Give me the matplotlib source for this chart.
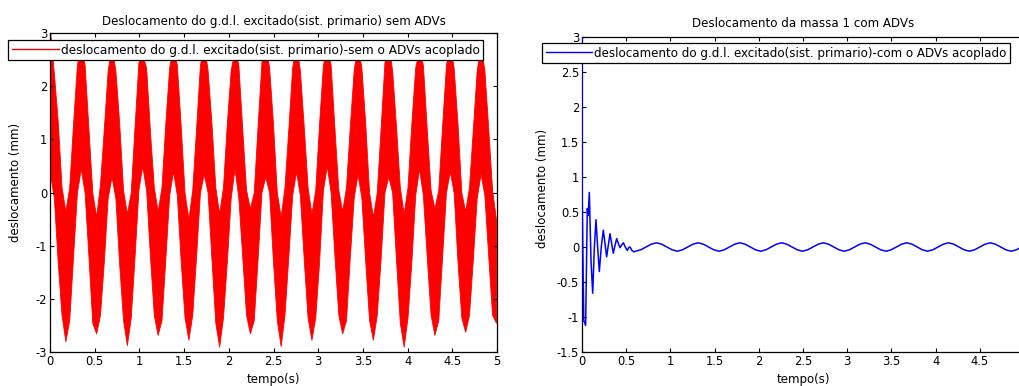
import matplotlib
matplotlib.use("Agg")
import matplotlib.pyplot as plt
from matplotlib.lines import Line2D
from matplotlib.ticker import FormatStrFormatter, MultipleLocator
import numpy as np

plt.rcParams['font.family'] = 'DejaVu Sans'
plt.rcParams['font.size'] = 8.3

# sistema primario sem ADVs: envelope superior/inferior amostrado a cada dt_red
dt_red = 0.043
red_upper = [3.05, 2.25, 1.35, 0.1, -0.35, 0.1, 1.3, 2.4,
             2.8, 2.4, 1.2, 0.0, -0.45, 0.15, 1.2, 2.3,
             2.75, 2.3, 1.3, 0.05, -0.4, 0.0, 1.25, 2.45,
             2.6, 2.35, 1.15, 0.1, -0.35, 0.1, 1.3, 2.35,
             2.75, 2.4, 1.25, 0.0, -0.5, 0.05, 1.2, 2.4,
             2.8, 2.3, 1.3, 0.1, -0.4, 0.1, 1.3, 2.3,
             2.7, 2.4, 1.2, 0.05, -0.3, 0.0, 1.25, 2.45,
             2.8, 2.35, 1.3, 0.0, -0.45, 0.1, 1.2, 2.35,
             2.8, 2.3, 1.25, 0.1, -0.4, 0.05, 1.3, 2.4,
             2.75, 2.4, 1.2, 0.05, -0.35, 0.1, 1.25, 2.3,
             2.8, 2.35, 1.3, 0.0, -0.45, 0.0, 1.2, 2.45,
             2.8, 2.3, 1.25, 0.1, -0.4, 0.1, 1.3, 2.35,
             2.7, 2.4, 1.2, 0.05, -0.3, 0.05, 1.25, 2.4,
             2.8, 2.35, 1.3, 0.0, -0.35, 0.1, 1.2, 2.3,
             2.75, 2.3, 1.2, 0.05, -0.5]
red_lower = [0.35, -0.1, -1.3, -2.3, -2.80, -2.4, -1.2, 0.0,
             0.45, 0.0, -1.2, -2.45, -2.65, -2.3, -1.3, -0.1,
             0.3, -0.1, -1.35, -2.4, -2.87, -2.35, -1.2, 0.05,
             0.5, 0.05, -1.2, -2.3, -2.68, -2.4, -1.25, -0.05,
             0.4, -0.05, -1.3, -2.35, -2.77, -2.3, -1.2, 0.0,
             0.35, 0.0, -1.25, -2.45, -2.90, -2.35, -1.3, -0.1,
             0.45, -0.1, -1.2, -2.3, -2.65, -2.4, -1.25, 0.0,
             0.3, 0.0, -1.3, -2.4, -2.89, -2.3, -1.2, -0.05,
             0.4, -0.05, -1.25, -2.35, -2.77, -2.35, -1.3, 0.05,
             0.5, 0.0, -1.2, -2.3, -2.65, -2.4, -1.2, -0.1,
             0.35, -0.1, -1.3, -2.4, -2.77, -2.3, -1.25, 0.0,
             0.3, 0.0, -1.25, -2.45, -2.90, -2.35, -1.3, -0.05,
             0.45, -0.05, -1.2, -2.3, -2.68, -2.4, -1.2, 0.0,
             0.4, 0.0, -1.3, -2.35, -2.62, -2.3, -1.25, -0.1,
             0.35, -0.05, -1.2, -2.3, -2.45]

# massa 1 com ADVs: transiente (tempos lidos) + regime (amostrado a cada dt_blue)
blue_t0 = [0.0, 0.002, 0.020, 0.041, 0.060, 0.070, 0.083, 0.102, 0.121, 0.140,
           0.158, 0.177, 0.196, 0.218, 0.241, 0.260, 0.279, 0.298, 0.317, 0.335,
           0.354, 0.373, 0.392, 0.411, 0.430, 0.449, 0.468, 0.490, 0.513, 0.528,
           0.543, 0.565, 0.588]
blue_y0 = [3.0, 0.7, -1.05, -1.12, 0.55, 0.45, 0.78, -0.2, -0.66, 0.0,
           0.39, 0.0, -0.35, 0.0, 0.24, 0.05, -0.14, 0.03, 0.19, 0.05,
           -0.09, 0.02, 0.12, 0.05, -0.01, 0.03, 0.06, 0.0, -0.05, -0.01,
           0.0, -0.05, -0.07]
t1_start = 0.606
dt_blue = 0.059
blue_y1 = [-0.06, -0.04, 0.0, 0.04, 0.06, 0.04, 0.0, -0.04,
           -0.06, -0.04, 0.0, 0.04, 0.06, 0.04, 0.0, -0.04,
           -0.06, -0.04, 0.0, 0.04, 0.06, 0.04, 0.0, -0.04,
           -0.06, -0.04, 0.0, 0.04, 0.06, 0.04, 0.0, -0.04,
           -0.06, -0.04, 0.0, 0.04, 0.06, 0.04, 0.0, -0.04,
           -0.06, -0.04, 0.0, 0.04, 0.06, 0.04, 0.0, -0.04,
           -0.06, -0.04, 0.0, 0.04, 0.06, 0.04, 0.0, -0.04,
           -0.06, -0.04, 0.0, 0.04, 0.06, 0.04, 0.0, -0.04,
           -0.06, -0.04, 0.0, 0.04, 0.06, 0.04, 0.0, -0.04,
           -0.06, -0.04, 0.0, 0.04]

xticks = [0, 0.5, 1, 1.5, 2, 2.5, 3, 3.5, 4, 4.5, 5]

t_red = np.arange(len(red_upper)) * dt_red
t_blue = np.concatenate([blue_t0, t1_start + np.arange(len(blue_y1)) * dt_blue])
y_blue = np.concatenate([blue_y0, blue_y1])

W, H = 1019, 386
fig = plt.figure(figsize=(W / 100, H / 100), dpi=100)
ax1 = fig.add_axes([50 / W, 34 / H, 447 / W, 319 / H])
ax2 = fig.add_axes([582 / W, 34 / H, 442 / W, 315 / H])

ax1.fill_between(t_red, red_lower, red_upper, color='#ff0000', lw=0.6,
                 edgecolor='#ff0000')
ax2.plot(t_blue, y_blue, color='#0000ff', lw=1.1, zorder=3)

for ax in (ax1, ax2):
    ax.set_xlim(0, 5)
    ax.xaxis.set_major_formatter(FormatStrFormatter('%g'))
    ax.yaxis.set_major_formatter(FormatStrFormatter('%g'))
    ax.tick_params(direction='in', length=3, width=0.8, top=True, right=True,
                   labelsize=8.3, pad=2)
    for s in ax.spines.values():
        s.set_linewidth(0.9)
    ax.set_xlabel('tempo(s)', fontsize=8.5)
    ax.set_ylabel('deslocamento (mm)', fontsize=8.5)

ax1.set_xticks(xticks)
ax2.set_xticks(xticks[:-1])
ax1.set_ylim(-3, 3)
ax1.yaxis.set_major_locator(MultipleLocator(1))
ax2.set_ylim(-1.5, 3)
ax2.yaxis.set_major_locator(MultipleLocator(0.5))

ax1.xaxis.set_label_coords(0.5, -0.066)
ax2.xaxis.set_label_coords(0.5, -0.066)
ax1.yaxis.set_label_coords(-0.062, 0.53)
ax2.yaxis.set_label_coords(-0.074, 0.52)

ax1.set_title('Deslocamento do g.d.l. excitado(sist. primario) sem ADVs', fontsize=8.6, pad=6)
ax2.set_title('Deslocamento da massa 1 com ADVs', fontsize=8.6, pad=7)

leg_kw = dict(loc='upper left', fontsize=8.7, fancybox=False, framealpha=1,
              edgecolor='black', borderpad=0.3, handlelength=3.9,
              handletextpad=0.15, borderaxespad=0)
l1 = ax1.legend([Line2D([], [], color='#ff0000', lw=1.0)],
                ['deslocamento do g.d.l. excitado(sist. primario)-sem o ADVs acoplado'],
                bbox_to_anchor=(8 / W, 1 - 40 / H), bbox_transform=fig.transFigure, **leg_kw)
l2 = ax2.legend([Line2D([], [], color='#0000ff', lw=1.0)],
                ['deslocamento do g.d.l. excitado(sist. primario)-com o ADVs acoplado'],
                bbox_to_anchor=(542 / W, 1 - 43 / H), bbox_transform=fig.transFigure,
                **dict(leg_kw, fontsize=8.6))
for l in (l1, l2):
    l.get_frame().set_linewidth(0.9)

fig.savefig('out.png', dpi=100)
